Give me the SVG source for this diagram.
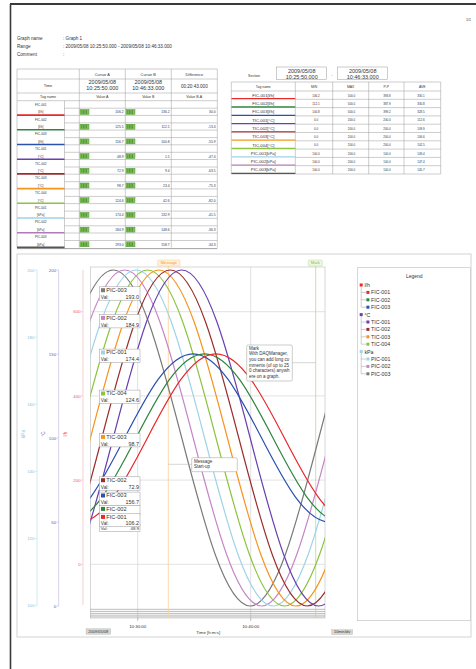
<svg xmlns="http://www.w3.org/2000/svg" width="476" height="669" viewBox="0 0 476 669">
<defs>
<style>
text{font-family:"Liberation Sans",Arial,sans-serif;fill:#333}
.hd{font-size:4.6px}
.th{font-size:3.9px;text-anchor:middle}
.tb{font-size:5.5px;text-anchor:middle}
.tn{font-size:3.2px;text-anchor:middle}
.v{font-size:3.3px;text-anchor:end}
.rn{font-size:4.2px;text-anchor:middle}
.rv{font-size:3px;text-anchor:middle}
.ln{stroke:#9a9a9a;stroke-width:0.5;fill:none}
.gr{stroke:#cfcfcf;stroke-width:0.6;fill:none}
.ax{font-size:4.4px;text-anchor:end}
.xl{font-size:4.4px;text-anchor:middle}
.tt{font-size:5.6px}
.tv{font-size:4.8px}
.tvv{font-size:5.4px;text-anchor:end}
.box{fill:#fff;stroke:#9a9a9a;stroke-width:0.5}
.lg{font-size:5.3px}
.tree{stroke:#888;stroke-width:0.4;fill:none}
.an{font-size:4.5px}
</style>
<g id="bar"><rect x="0" y="0" width="9" height="5" fill="#86c95a" stroke="#3b7f2c" stroke-width="0.4"/><path d="M1.8 0.6V4.4M3.4 0.6V4.4M5 0.6V4.4M6.6 0.6V4.4" stroke="#2f6f22" stroke-width="0.6"/></g>
<path id="wa" fill="none" d="M-137 168C-112.21 168-90.84 86.07-68.5 0C-46.16-86.07-24.79-168 0-168C24.79-168 46.16-86.07 68.5 0C90.84 86.07 112.21 168 137 168C161.79 168 183.16 86.07 205.5 0C227.84-86.07 249.21-168 274-168"/>
<path id="wb" fill="none" d="M-137 84.2C-112.21 84.2-90.84 43.14-68.5 0C-46.16-43.14-24.79-84.2 0-84.2C24.79-84.2 46.16-43.14 68.5 0C90.84 43.14 112.21 84.2 137 84.2C161.79 84.2 183.16 43.14 205.5 0C227.84-43.14 249.21-84.2 274-84.2"/>
<clipPath id="pc"><rect x="90.3" y="267" width="234.7" height="351"/></clipPath>
</defs>
<rect width="476" height="669" fill="#fff"/>
<!-- page border -->
<line x1="10" y1="4" x2="476" y2="4" stroke="#3a3a3a" stroke-width="1.8"/>
<line x1="10.5" y1="4" x2="10.5" y2="669" stroke="#3a3a3a" stroke-width="1.6"/>
<text x="466" y="20.5" style="font-size:3.6px">1/1</text>

<!-- header -->
<g id="header" class="hd">
<text x="17" y="39.6">Graph name</text><text x="63" y="39.6">: Graph 1</text>
<text x="17" y="47.6">Range</text><text x="63" y="47.6">: 2009/05/08 10:25:50.000 - 2009/05/08 10:46:33.000</text>
<text x="17" y="55.6">Comment</text><text x="63" y="55.6">:</text>
</g>

<!-- left cursor table -->
<g id="cursor-table">
<path class="ln" d="M17 69H217.3M17 79H217.3M17 93H217.3M17 100.7H217.3M17 69V247.7M64.5 100.7V247.7M79.3 69V247.7M125.3 69V247.7M171.3 69V247.7M217.3 69V247.7"/>
<line x1="17" y1="248.6" x2="217.3" y2="248.6" stroke="#8a8a8a" stroke-width="0.8"/>
<text class="th" x="102.3" y="75.6">Cursor A</text>
<text class="th" x="148.3" y="75.6">Cursor B</text>
<text class="th" x="194.3" y="75.6">Difference</text>
<text class="th" x="48" y="87.4">Time</text>
<text class="tb" x="102.3" y="84.4">2009/05/08</text><text class="tb" x="102.3" y="90.4">10:25:50.000</text>
<text class="tb" x="148.3" y="84.4">2009/05/08</text><text class="tb" x="148.3" y="90.4">10:46:33.000</text>
<text class="th" x="194.3" y="88" style="font-size:4.6px">00:20:43.000</text>
<text class="th" x="48" y="98.3" style="font-size:3.6px">Tag name</text>
<text class="th" x="102.3" y="98.3" style="font-size:3.6px">Value A</text>
<text class="th" x="148.3" y="98.3" style="font-size:3.6px">Value B</text>
<text class="th" x="194.3" y="98.3" style="font-size:3.6px">Value B-A</text>

<g transform="translate(0,100.7)"><text class="tn" x="40.75" y="5.2">FIC-001</text><path class="ln" d="M64.5 7.5H217.3M64.5 14.7H217.3"/><text class="tn" x="40.75" y="12.8">[l/h]</text><use href="#bar" x="80" y="8.8"/><text class="v" x="123.5" y="12.8">106.2</text><use href="#bar" x="126" y="8.8"/><text class="v" x="169.5" y="12.8">136.2</text><text class="v" x="215.5" y="12.8">30.0</text><line x1="17" y1="14.4" x2="64.5" y2="14.4" stroke="#e8282b" stroke-width="1.6"/></g>
<g transform="translate(0,115.4)"><text class="tn" x="40.75" y="5.2">FIC-002</text><path class="ln" d="M64.5 7.5H217.3M64.5 14.7H217.3"/><text class="tn" x="40.75" y="12.8">[l/h]</text><use href="#bar" x="80" y="8.8"/><text class="v" x="123.5" y="12.8">125.5</text><use href="#bar" x="126" y="8.8"/><text class="v" x="169.5" y="12.8">112.1</text><text class="v" x="215.5" y="12.8">-13.4</text><line x1="17" y1="14.4" x2="64.5" y2="14.4" stroke="#2e8540" stroke-width="1.6"/></g>
<g transform="translate(0,130.1)"><text class="tn" x="40.75" y="5.2">FIC-003</text><path class="ln" d="M64.5 7.5H217.3M64.5 14.7H217.3"/><text class="tn" x="40.75" y="12.8">[l/h]</text><use href="#bar" x="80" y="8.8"/><text class="v" x="123.5" y="12.8">156.7</text><use href="#bar" x="126" y="8.8"/><text class="v" x="169.5" y="12.8">100.8</text><text class="v" x="215.5" y="12.8">-55.9</text><line x1="17" y1="14.4" x2="64.5" y2="14.4" stroke="#2a50b0" stroke-width="1.6"/></g>
<g transform="translate(0,144.8)"><text class="tn" x="40.75" y="5.2">TIC-001</text><path class="ln" d="M64.5 7.5H217.3M64.5 14.7H217.3"/><text class="tn" x="40.75" y="12.8">[°C]</text><use href="#bar" x="80" y="8.8"/><text class="v" x="123.5" y="12.8">48.9</text><use href="#bar" x="126" y="8.8"/><text class="v" x="169.5" y="12.8">1.5</text><text class="v" x="215.5" y="12.8">-47.4</text><line x1="17" y1="14.4" x2="64.5" y2="14.4" stroke="#6840b0" stroke-width="1.6"/></g>
<g transform="translate(0,159.5)"><text class="tn" x="40.75" y="5.2">TIC-002</text><path class="ln" d="M64.5 7.5H217.3M64.5 14.7H217.3"/><text class="tn" x="40.75" y="12.8">[°C]</text><use href="#bar" x="80" y="8.8"/><text class="v" x="123.5" y="12.8">72.9</text><use href="#bar" x="126" y="8.8"/><text class="v" x="169.5" y="12.8">9.4</text><text class="v" x="215.5" y="12.8">-63.5</text><line x1="17" y1="14.4" x2="64.5" y2="14.4" stroke="#9a2e2e" stroke-width="1.6"/></g>
<g transform="translate(0,174.2)"><text class="tn" x="40.75" y="5.2">TIC-003</text><path class="ln" d="M64.5 7.5H217.3M64.5 14.7H217.3"/><text class="tn" x="40.75" y="12.8">[°C]</text><use href="#bar" x="80" y="8.8"/><text class="v" x="123.5" y="12.8">98.7</text><use href="#bar" x="126" y="8.8"/><text class="v" x="169.5" y="12.8">23.4</text><text class="v" x="215.5" y="12.8">-75.3</text><line x1="17" y1="14.4" x2="64.5" y2="14.4" stroke="#f7941d" stroke-width="1.6"/></g>
<g transform="translate(0,188.9)"><text class="tn" x="40.75" y="5.2">TIC-004</text><path class="ln" d="M64.5 7.5H217.3M64.5 14.7H217.3"/><text class="tn" x="40.75" y="12.8">[°C]</text><use href="#bar" x="80" y="8.8"/><text class="v" x="123.5" y="12.8">124.6</text><use href="#bar" x="126" y="8.8"/><text class="v" x="169.5" y="12.8">42.6</text><text class="v" x="215.5" y="12.8">-82.0</text><line x1="17" y1="14.4" x2="64.5" y2="14.4" stroke="#8cc43f" stroke-width="1.6"/></g>
<g transform="translate(0,203.6)"><text class="tn" x="40.75" y="5.2">PIC-001</text><path class="ln" d="M64.5 7.5H217.3M64.5 14.7H217.3"/><text class="tn" x="40.75" y="12.8">[kPa]</text><use href="#bar" x="80" y="8.8"/><text class="v" x="123.5" y="12.8">174.4</text><use href="#bar" x="126" y="8.8"/><text class="v" x="169.5" y="12.8">132.9</text><text class="v" x="215.5" y="12.8">-41.5</text><line x1="17" y1="14.4" x2="64.5" y2="14.4" stroke="#9fd3e8" stroke-width="1.6"/></g>
<g transform="translate(0,218.3)"><text class="tn" x="40.75" y="5.2">PIC-002</text><path class="ln" d="M64.5 7.5H217.3M64.5 14.7H217.3"/><text class="tn" x="40.75" y="12.8">[kPa]</text><use href="#bar" x="80" y="8.8"/><text class="v" x="123.5" y="12.8">184.9</text><use href="#bar" x="126" y="8.8"/><text class="v" x="169.5" y="12.8">148.6</text><text class="v" x="215.5" y="12.8">-36.3</text><line x1="17" y1="14.4" x2="64.5" y2="14.4" stroke="#b07ab8" stroke-width="1.6"/></g>
<g transform="translate(0,233)"><text class="tn" x="40.75" y="5.2">PIC-003</text><path class="ln" d="M64.5 7.5H217.3"/><text class="tn" x="40.75" y="12.8">[kPa]</text><use href="#bar" x="80" y="8.8"/><text class="v" x="123.5" y="12.8">193.0</text><use href="#bar" x="126" y="8.8"/><text class="v" x="169.5" y="12.8">158.7</text><text class="v" x="215.5" y="12.8">-34.3</text><line x1="17" y1="14.4" x2="64.5" y2="14.4" stroke="#555" stroke-width="1.6"/></g>
</g>

<!-- right statistics table -->
<g id="stats-table">
<text class="th" x="254" y="76.5" style="font-size:3.6px">Section</text>
<rect x="276.7" y="67" width="50" height="12.5" fill="#fff" stroke="#999" stroke-width="0.5"/>
<text class="tb" x="301.7" y="72.6">2009/05/08</text><text class="tb" x="301.7" y="78.6">10:25:50.000</text>
<text class="th" x="332.2" y="76">-</text>
<rect x="337.7" y="67" width="50" height="12.5" fill="#fff" stroke="#999" stroke-width="0.5"/>
<text class="tb" x="362.7" y="72.6">2009/05/08</text><text class="tb" x="362.7" y="78.6">10:46:33.000</text>
<path class="ln" d="M231.3 82H440.7M231.3 91H440.7M231.3 174H440.7M231.3 82V174M295.3 82V174M332.7 82V174M368.7 82V174M404 82V174M440.7 82V174"/>
<g style="font-size:3.4px;text-anchor:middle"><text x="263.3" y="88">Tag name</text><text x="314" y="88">MIN</text><text x="350.7" y="88">MAX</text><text x="386.3" y="88">P-P</text><text x="422.3" y="88">AVE</text></g>
<g transform="translate(0,91)"><text class="rn" x="263.3" y="5.8">FIC-001[l/h]</text><text class="rv" x="316" y="5.6">106.2</text><text class="rv" x="351.5" y="5.6">500.0</text><text class="rv" x="387" y="5.6">393.8</text><text class="rv" x="421" y="5.6">330.1</text><path class="ln" d="M295.3 8.3H440.7"/><line x1="231.5" y1="7.7" x2="295.3" y2="7.7" stroke="#e8282b" stroke-width="1.3"/></g>
<g transform="translate(0,99.3)"><text class="rn" x="263.3" y="5.8">FIC-002[l/h]</text><text class="rv" x="316" y="5.6">112.1</text><text class="rv" x="351.5" y="5.6">500.0</text><text class="rv" x="387" y="5.6">387.9</text><text class="rv" x="421" y="5.6">330.8</text><path class="ln" d="M295.3 8.3H440.7"/><line x1="231.5" y1="7.7" x2="295.3" y2="7.7" stroke="#2e8540" stroke-width="1.3"/></g>
<g transform="translate(0,107.6)"><text class="rn" x="263.3" y="5.8">FIC-003[l/h]</text><text class="rv" x="316" y="5.6">100.8</text><text class="rv" x="351.5" y="5.6">500.0</text><text class="rv" x="387" y="5.6">399.2</text><text class="rv" x="421" y="5.6">328.5</text><path class="ln" d="M295.3 8.3H440.7"/><line x1="231.5" y1="7.7" x2="295.3" y2="7.7" stroke="#2a50b0" stroke-width="1.3"/></g>
<g transform="translate(0,115.9)"><text class="rn" x="263.3" y="5.8">TIC-001[°C]</text><text class="rv" x="316" y="5.6">0.0</text><text class="rv" x="351.5" y="5.6">200.0</text><text class="rv" x="387" y="5.6">200.0</text><text class="rv" x="421" y="5.6">112.6</text><path class="ln" d="M295.3 8.3H440.7"/><line x1="231.5" y1="7.7" x2="295.3" y2="7.7" stroke="#6840b0" stroke-width="1.3"/></g>
<g transform="translate(0,124.2)"><text class="rn" x="263.3" y="5.8">TIC-002[°C]</text><text class="rv" x="316" y="5.6">0.0</text><text class="rv" x="351.5" y="5.6">200.0</text><text class="rv" x="387" y="5.6">200.0</text><text class="rv" x="421" y="5.6">109.9</text><path class="ln" d="M295.3 8.3H440.7"/><line x1="231.5" y1="7.7" x2="295.3" y2="7.7" stroke="#9a2e2e" stroke-width="1.3"/></g>
<g transform="translate(0,132.5)"><text class="rn" x="263.3" y="5.8">TIC-003[°C]</text><text class="rv" x="316" y="5.6">0.0</text><text class="rv" x="351.5" y="5.6">200.0</text><text class="rv" x="387" y="5.6">200.0</text><text class="rv" x="421" y="5.6">106.6</text><path class="ln" d="M295.3 8.3H440.7"/><line x1="231.5" y1="7.7" x2="295.3" y2="7.7" stroke="#f7941d" stroke-width="1.3"/></g>
<g transform="translate(0,140.8)"><text class="rn" x="263.3" y="5.8">TIC-004[°C]</text><text class="rv" x="316" y="5.6">0.0</text><text class="rv" x="351.5" y="5.6">200.0</text><text class="rv" x="387" y="5.6">200.0</text><text class="rv" x="421" y="5.6">102.5</text><path class="ln" d="M295.3 8.3H440.7"/><line x1="231.5" y1="7.7" x2="295.3" y2="7.7" stroke="#8cc43f" stroke-width="1.3"/></g>
<g transform="translate(0,149.1)"><text class="rn" x="263.3" y="5.8">PIC-001[kPa]</text><text class="rv" x="316" y="5.6">100.0</text><text class="rv" x="351.5" y="5.6">200.0</text><text class="rv" x="387" y="5.6">100.0</text><text class="rv" x="421" y="5.6">149.4</text><path class="ln" d="M295.3 8.3H440.7"/><line x1="231.5" y1="7.7" x2="295.3" y2="7.7" stroke="#9fd3e8" stroke-width="1.3"/></g>
<g transform="translate(0,157.4)"><text class="rn" x="263.3" y="5.8">PIC-002[kPa]</text><text class="rv" x="316" y="5.6">100.0</text><text class="rv" x="351.5" y="5.6">200.0</text><text class="rv" x="387" y="5.6">100.0</text><text class="rv" x="421" y="5.6">147.4</text><path class="ln" d="M295.3 8.3H440.7"/><line x1="231.5" y1="7.7" x2="295.3" y2="7.7" stroke="#b07ab8" stroke-width="1.3"/></g>
<g transform="translate(0,165.7)"><text class="rn" x="263.3" y="5.8">PIC-003[kPa]</text><text class="rv" x="316" y="5.6">100.0</text><text class="rv" x="351.5" y="5.6">200.0</text><text class="rv" x="387" y="5.6">100.0</text><text class="rv" x="421" y="5.6">145.7</text><line x1="231.5" y1="7.7" x2="295.3" y2="7.7" stroke="#555" stroke-width="1.3"/></g>
</g>

<!-- chart panel -->
<g id="chart">
<rect x="17" y="254" width="454" height="383" fill="none" stroke="#c8c8c8" stroke-width="0.8"/>
<g id="axis-kpa">
<path d="M37 270V605.7M35 270H37M35 337.1H37M35 404.3H37M35 471.4H37M35 538.6H37M35 605.7H37" stroke="#b5dcea" stroke-width="0.6" fill="none"/>
<g class="ax"><text x="34.5" y="271.6" style="fill:#8cc4dc">200</text><text x="34.5" y="338.7" style="fill:#8cc4dc">180</text><text x="34.5" y="405.9" style="fill:#8cc4dc">160</text><text x="34.5" y="473" style="fill:#8cc4dc">140</text><text x="34.5" y="540.2" style="fill:#8cc4dc">120</text><text x="34.5" y="607.3" style="fill:#8cc4dc">100</text></g>
<text transform="translate(24.6,434) rotate(-90)" style="font-size:4.6px;text-anchor:middle;fill:#8cc4dc">kPa</text>
</g>
<g id="axis-degc">
<path d="M58.7 270V606M56.7 270H58.7M56.7 354H58.7M56.7 438H58.7M56.7 522H58.7M56.7 606H58.7" stroke="#c0b0de" stroke-width="0.6" fill="none"/>
<g class="ax"><text x="56.2" y="271.6" style="fill:#6f52b0">200</text><text x="56.2" y="355.6" style="fill:#6f52b0">150</text><text x="56.2" y="439.6" style="fill:#6f52b0">100</text><text x="56.2" y="523.6" style="fill:#6f52b0">50</text><text x="56.2" y="607.6" style="fill:#6f52b0">0</text></g>
<text transform="translate(44.5,434) rotate(-90)" style="font-size:4.6px;text-anchor:middle;fill:#6f52b0">°C</text>
</g>
<g id="axis-lh">
<path d="M83 270V605M81 311.7H83M81 395.9H83M81 480.1H83M81 564.3H83" stroke="#f6b0b0" stroke-width="0.6" fill="none"/>
<g class="ax"><text x="80.6" y="313.3" style="fill:#ec5a5a">600</text><text x="80.6" y="397.5" style="fill:#ec5a5a">400</text><text x="80.6" y="481.7" style="fill:#ec5a5a">200</text><text x="80.6" y="565.9" style="fill:#ec5a5a">0</text></g>
<text transform="translate(67.3,434) rotate(-90)" style="font-size:4.6px;text-anchor:middle;fill:#ec5a5a">l/h</text>
</g>
<rect x="90.3" y="267" width="234.7" height="351" fill="#fff" stroke="#bdbdbd" stroke-width="0.6"/>
<path class="gr" d="M90.3 311.7H325M90.3 395.9H325M90.3 480.1H325M90.3 564.3H325M137.7 267V620M250.7 267V620"/>
<path d="M90.3 609.3H325M90.3 611.4H325M90.3 613.4H325M90.3 615.2H325M90.3 616.9H325" stroke="#7a7a7a" stroke-width="0.5" fill="none"/>
<line x1="168.3" y1="266" x2="168.3" y2="618" stroke="#fbcf94" stroke-width="0.8"/>
<line x1="315.7" y1="266" x2="315.7" y2="618" stroke="#b3da98" stroke-width="0.8"/>
<g id="series" clip-path="url(#pc)" stroke-width="1.2">
<use href="#wa" transform="translate(113.3 438)" stroke="#7a7a7a"/>
<use href="#wa" transform="translate(124.7 438)" stroke="#c585c8"/>
<use href="#wa" transform="translate(136.1 438)" stroke="#9fd3e8"/>
<use href="#wa" transform="translate(147.5 438)" stroke="#8cc43f"/>
<use href="#wa" transform="translate(158.9 438)" stroke="#f7941d"/>
<use href="#wa" transform="translate(170.3 438)" stroke="#9a2e2e"/>
<use href="#wa" transform="translate(181.7 438)" stroke="#6840b0"/>
<use href="#wb" transform="translate(193.1 438)" stroke="#2a50b0"/>
<use href="#wb" transform="translate(204.5 438)" stroke="#2e8540"/>
<use href="#wb" transform="translate(215.9 438)" stroke="#e8282b"/>
</g>
<rect x="157.7" y="260" width="22.3" height="6" rx="0.8" fill="#fff1dc" stroke="#f9c98a" stroke-width="0.5"/>
<text x="168.8" y="264.4" style="font-size:4px;text-anchor:middle;fill:#f39a2c">Message</text>
<rect x="308.3" y="260" width="14" height="6" rx="0.8" fill="#eef7e4" stroke="#b8dc9a" stroke-width="0.5"/>
<text x="315.3" y="264.4" style="font-size:4px;text-anchor:middle;fill:#7dbb4f">Mark</text>
<line x1="292.3" y1="362.7" x2="315.7" y2="362.7" stroke="#aaa" stroke-width="0.5"/>
<rect x="246.7" y="345" width="45.6" height="36" rx="1.5" class="box"/>
<g class="an"><text x="249" y="349.8">Mark</text><text x="249" y="355.4">With DAQManager,</text><text x="249" y="361">you can add long co</text><text x="249" y="366.6">mments (of up to 25</text><text x="249" y="372.2">0 characters) anywh</text><text x="249" y="377.8">ere on a graph.</text></g>
<line x1="168.3" y1="464.3" x2="191.7" y2="464.3" stroke="#aaa" stroke-width="0.5"/>
<rect x="191.7" y="457.7" width="45.6" height="14" rx="1.5" class="box"/>
<g class="an"><text x="194" y="462.6">Message</text><text x="194" y="468.4">Start-up</text></g>
<g id="tip-pic003"><rect x="99.3" y="286.8" width="40.7" height="13.4" class="box"/><rect x="101" y="288.2" width="4" height="4" fill="#7a7a7a"/><text class="tt" x="106.3" y="292">PIC-003</text><text class="tv" x="100.8" y="299">Val:</text><text class="tvv" x="139" y="299">193.0</text></g>
<g id="tip-pic002"><rect x="99.3" y="314.5" width="40.7" height="13.4" class="box"/><rect x="101" y="315.9" width="4" height="4" fill="#c585c8"/><text class="tt" x="106.3" y="319.7">PIC-002</text><text class="tv" x="100.8" y="326.7">Val:</text><text class="tvv" x="139" y="326.7">184.9</text></g>
<g id="tip-pic001"><rect x="99.3" y="349.1" width="40.7" height="13.4" class="box"/><rect x="101" y="350.5" width="4" height="4" fill="#9fd3e8"/><text class="tt" x="106.3" y="354.3">PIC-001</text><text class="tv" x="100.8" y="361.3">Val:</text><text class="tvv" x="139" y="361.3">174.4</text></g>
<g id="tip-tic004"><rect x="99.3" y="390.1" width="40.7" height="13.4" class="box"/><rect x="101" y="391.5" width="4" height="4" fill="#8cc43f"/><text class="tt" x="106.3" y="395.3">TIC-004</text><text class="tv" x="100.8" y="402.3">Val:</text><text class="tvv" x="139" y="402.3">124.6</text></g>
<g id="tip-tic003"><rect x="99.3" y="433.5" width="40.7" height="13.4" class="box"/><rect x="101" y="434.9" width="4" height="4" fill="#f7941d"/><text class="tt" x="106.3" y="438.7">TIC-003</text><text class="tv" x="100.8" y="445.7">Val:</text><text class="tvv" x="139" y="445.7">98.7</text></g>
<g id="tip-tic002"><rect x="99.3" y="476.8" width="40.7" height="13.4" class="box"/><rect x="101" y="478.2" width="4" height="4" fill="#9a2e2e"/><text class="tt" x="106.3" y="482">TIC-002</text><text class="tv" x="100.8" y="489">Val:</text><text class="tvv" x="139" y="489">72.9</text></g>
<g id="tip-fic003"><rect x="99.3" y="492.1" width="40.7" height="13.4" class="box"/><rect x="101" y="493.5" width="4" height="4" fill="#2a50b0"/><text class="tt" x="106.3" y="497.3">FIC-003</text><text class="tv" x="100.8" y="504.3">Val:</text><text class="tvv" x="139" y="504.3">156.7</text></g>
<g id="tip-tic001"><rect x="99.3" y="524" width="40.7" height="7.4" class="box"/><text x="100.8" y="530.4" style="font-size:4.2px">Val:</text><text x="139" y="530.4" style="font-size:4.4px;text-anchor:end">48.9</text></g>
<g id="tip-fic002"><rect x="99.3" y="505.5" width="40.7" height="10" class="box"/><rect x="101" y="506.9" width="4" height="4" fill="#2e8540"/><text class="tt" x="106.3" y="510.7">FIC-002</text></g>
<g id="tip-fic001"><rect x="99.3" y="513.5" width="40.7" height="13.2" class="box"/><rect x="101" y="514.9" width="4" height="4" fill="#e8282b"/><text class="tt" x="106.3" y="518.7">FIC-001</text><text class="tv" x="100.8" y="525.3">Val:</text><text class="tvv" x="139" y="525.3">106.2</text></g>
<path d="M137.7 618V621M250.7 618V621" stroke="#999" stroke-width="0.5"/>
<text class="xl" x="137.7" y="628.3">10:30:00</text>
<text class="xl" x="250.7" y="628.3">10:40:00</text>
<text class="xl" x="208.3" y="633.8">Time [h:m:s]</text>
<rect x="86" y="628.7" width="24.7" height="5.6" fill="#d6d6d6" stroke="#aaa" stroke-width="0.3"/>
<text x="98.3" y="632.9" style="font-size:4px;text-anchor:middle">2009/05/08</text>
<rect x="331.7" y="629.6" width="21" height="5" fill="#d6d6d6" stroke="#aaa" stroke-width="0.3"/>
<text x="342.2" y="633.4" style="font-size:3.8px;text-anchor:middle">10min/div</text>
</g>

<!-- legend -->
<g id="legend">
<rect x="357.3" y="267.7" width="113" height="353" fill="#fff" stroke="#bdbdbd" stroke-width="0.6"/>
<text x="414.3" y="277.6" style="font-size:5px;text-anchor:middle">Legend</text>
<path class="tree" d="M361.2 286.5V307.2M361.2 292.4H366M361.2 299.8H366M361.2 307.2H366M361.2 316.1V344.2M361.2 322H366M361.2 329.4H366M361.2 336.8H366M361.2 344.2H366M361.2 353.1V373.8M361.2 359H366M361.2 366.4H366M361.2 373.8H366"/>
<g class="lg">
<rect x="359.7" y="283.5" width="3" height="3" fill="#e8282b"/><text x="364.4" y="286.9">l/h</text>
<rect x="366.4" y="290.9" width="3" height="3" fill="#e8282b"/><text x="371" y="294.3">FIC-001</text>
<rect x="366.4" y="298.3" width="3" height="3" fill="#2e8540"/><text x="371" y="301.7">FIC-002</text>
<rect x="366.4" y="305.7" width="3" height="3" fill="#2a50b0"/><text x="371" y="309.1">FIC-003</text>
<rect x="359.7" y="313.1" width="3" height="3" fill="#6840b0"/><text x="364.4" y="316.5">°C</text>
<rect x="366.4" y="320.5" width="3" height="3" fill="#6840b0"/><text x="371" y="323.9">TIC-001</text>
<rect x="366.4" y="327.9" width="3" height="3" fill="#9a2e2e"/><text x="371" y="331.3">TIC-002</text>
<rect x="366.4" y="335.3" width="3" height="3" fill="#f7941d"/><text x="371" y="338.7">TIC-003</text>
<rect x="366.4" y="342.7" width="3" height="3" fill="#8cc43f"/><text x="371" y="346.1">TIC-004</text>
<rect x="359.7" y="350.1" width="3" height="3" fill="#9fd3e8"/><text x="364.4" y="353.5">kPa</text>
<rect x="366.4" y="357.5" width="3" height="3" fill="#9fd3e8"/><text x="371" y="360.9">PIC-001</text>
<rect x="366.4" y="364.9" width="3" height="3" fill="#c585c8"/><text x="371" y="368.3">PIC-002</text>
<rect x="366.4" y="372.3" width="3" height="3" fill="#7a7a7a"/><text x="371" y="375.7">PIC-003</text>
</g>
</g>
</svg>
